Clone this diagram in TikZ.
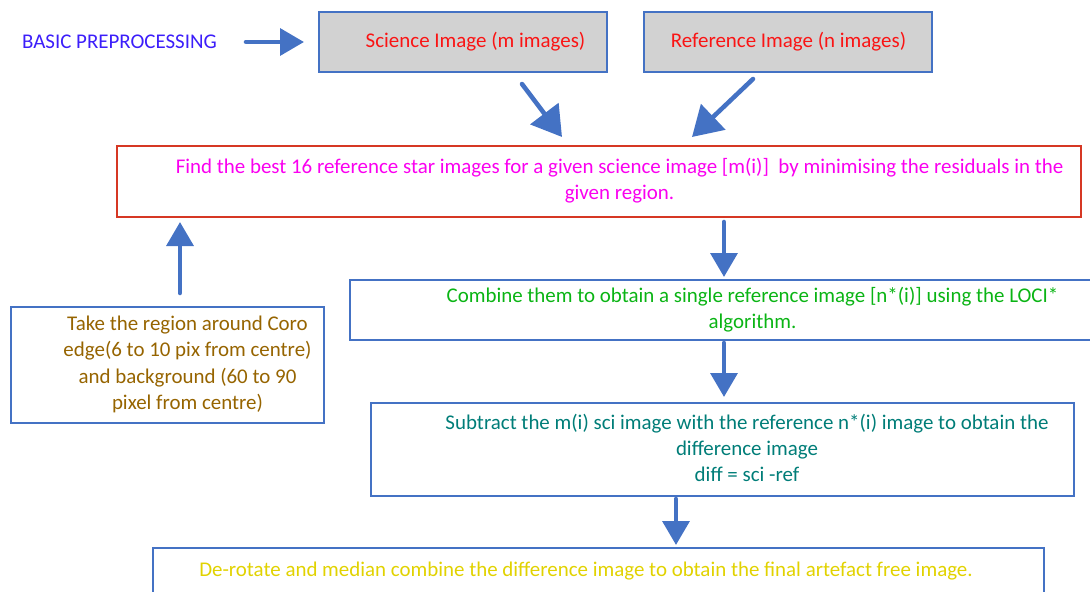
\documentclass[tikz,border=0pt]{standalone}
\usepackage{fontspec}
\setmainfont{Carlito}
\usetikzlibrary{arrows.meta,fit}
\definecolor{flowblue}{RGB}{68,114,196}
\definecolor{boxgrey}{RGB}{210,210,210}
\definecolor{boxred}{RGB}{214,56,36}
\definecolor{txtviolet}{RGB}{60,30,250}
\definecolor{txtred}{RGB}{250,20,20}
\definecolor{txtmagenta}{RGB}{250,0,240}
\definecolor{txtgreen}{RGB}{10,180,20}
\definecolor{txtbrown}{RGB}{150,100,0}
\definecolor{txtteal}{RGB}{0,125,120}
\definecolor{txtyellow}{RGB}{225,210,0}
\begin{document}
\begin{tikzpicture}[x=0.75pt,y=-0.75pt,
  box/.style={draw=flowblue,line width=1.1pt,inner sep=0pt},
  greybox/.style={box,fill=boxgrey,line width=1.4pt},
  redbox/.style={draw=boxred,line width=1.4pt,inner sep=0pt},
  label/.style={inner sep=0pt,align=center,font=\fontsize{15.7}{19.8}\selectfont},
  flow/.style={draw=flowblue,line width=3.4pt,line cap=round,
    -{Triangle[width=20pt,length=18pt]}},
  bigflow/.style={flow,-{Triangle[width=26pt,length=22pt]}}]
\useasboundingbox (0,0) rectangle (1090,592);

% boxes
\node[greybox,fit={(319,12) (607,72)}] (sci) {};
\node[greybox,fit={(644,12) (932,72)}] (ref) {};
\node[redbox,fit={(117,146) (1081,217)}] (find) {};
\node[box,fit={(350,280) (1096,340)}] (comb) {};
\node[box,fit={(11,307) (324,423)}] (coro) {};
\node[box,fit={(371,403) (1074,496)}] (subt) {};
\node[box,fit={(153,548) (1044,600)}] (final) {};

% texts
\node[label,text=txtviolet] (basic) at (119.5,42) {BASIC PREPROCESSING};
\node[label,text=txtred] (scit) at (475.5,42) {Science Image (m images)};
\node[label,text=txtred] (reft) at (788.5,42) {Reference Image (n images)};
\node[label,text=txtmagenta] (findt) at (619.5,180.5)
  {Find the best 16 reference star images for a given science image [m(i)]\ \ by minimising the residuals in the\\given region.};
\node[label,text=txtgreen] (combt) at (752.5,309.5)
  {Combine them to obtain a single reference image [n*(i)] using the LOCI*\\algorithm.};
\node[label,text=txtbrown] (corot) at (187.5,364.5)
  {Take the region around Coro\\edge(6 to 10 pix from centre)\\and background (60 to 90\\pixel from centre)};
\node[label,text=txtteal] (subtt) at (747,448)
  {Subtract the m(i) sci image with the reference n*(i) image to obtain the\\difference image\\diff = sci -ref};
\node[label,text=txtyellow] (finalt) at (586,571)
  {De-rotate and median combine the difference image to obtain the final artefact free image.};

% connector end points
\coordinate (p1) at (246,42);   \coordinate (q1) at (304,42);
\coordinate (p2) at (522,84);   \coordinate (q2) at (562,137);
\coordinate (p3) at (753,79);   \coordinate (q3) at (692,137);
\coordinate (p4) at (180,293);  \coordinate (q4) at (180,222);
\coordinate (p5) at (724,222);  \coordinate (q5) at (724,277);
\coordinate (p6) at (724,343);  \coordinate (q6) at (724,397);
\coordinate (p7) at (676,499);  \coordinate (q7) at (676,545);

% connectors
\draw[flow] (p1) -- (q1);
\draw[bigflow] (p2) -- (q2);
\draw[bigflow] (p3) -- (q3);
\draw[flow] (p4) -- (q4);
\draw[flow] (p5) -- (q5);
\draw[flow] (p6) -- (q6);
\draw[flow] (p7) -- (q7);
\end{tikzpicture}
\end{document}
